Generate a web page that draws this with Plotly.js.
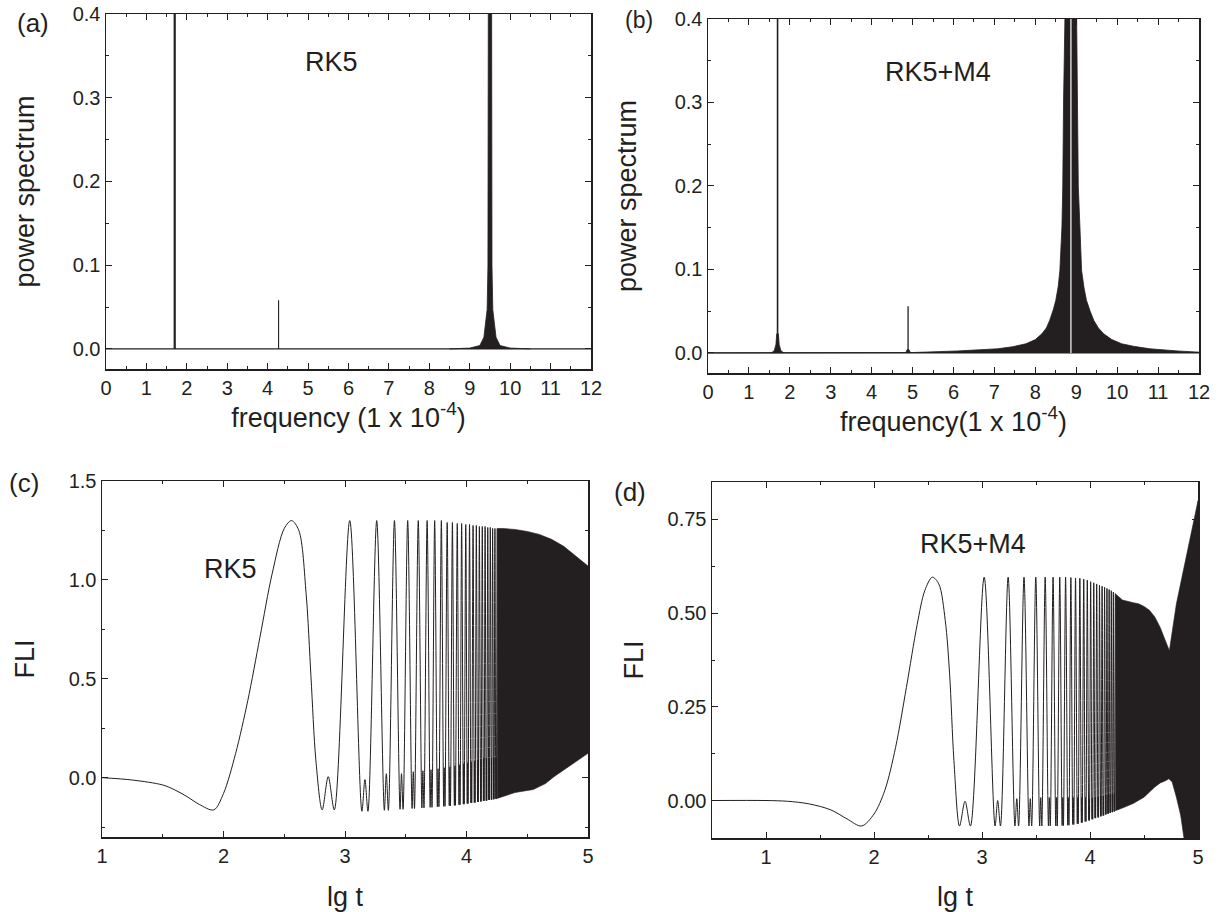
<!DOCTYPE html>
<html><head><meta charset="utf-8">
<script src="https://cdn.plot.ly/plotly-3.0.1.min.js"></script>
<style>html,body{margin:0;padding:0;background:#fff}.layer{position:absolute;left:0;top:0;width:1219px;height:912px}</style>
</head><body><div id="chart" class="layer"></div><div id="frames" class="layer"></div>
<script>
// ---------- (a) power spectrum, RK5 ----------
const aSpikeFreq = [1.70, 4.27];
const aSpikePow  = [0.45, 0.058];
const aPeakFreq = [8.5, 9.0, 9.25, 9.35, 9.43, 9.45, 9.46, 9.54, 9.55, 9.57, 9.65, 9.75, 10.0, 10.5];
const aPeakPow  = [0, 0.001, 0.004, 0.014, 0.047, 0.1, 0.45, 0.45, 0.1, 0.047, 0.014, 0.004, 0.001, 0];
const aBaseFreq = [0, 12];
const aBasePow  = [0, 0];

// ---------- (b) power spectrum, RK5+M4 ----------
const bSpikeFreq = [1.70, 4.89];
const bSpikePow  = [0.45, 0.056];
const bHump1Freq = [1.55, 1.62, 1.66, 1.68, 1.72, 1.74, 1.78, 1.85];
const bHump1Pow  = [0, 0.003, 0.01, 0.023, 0.023, 0.01, 0.003, 0];
const bHump2Freq = [4.83, 4.87, 4.91, 4.95];
const bHump2Pow  = [0, 0.004, 0.004, 0];
const bPeakFreq = [0, 5.0, 6.10, 6.6, 7.08, 7.45, 7.77, 8.0, 8.16, 8.27, 8.35, 8.44, 8.50, 8.56, 8.60, 8.65, 8.67, 8.69, 8.72, 8.74,
                   9.00, 9.01, 9.02, 9.05, 9.09, 9.13, 9.19, 9.25, 9.34, 9.43, 9.54, 9.67, 9.87, 10.11, 10.4, 10.8, 11.48, 12];
const bPeakPow  = [0, 0.0005, 0.0024, 0.0035, 0.005, 0.0075, 0.011, 0.016, 0.023, 0.03, 0.039, 0.052, 0.063, 0.08, 0.099, 0.151, 0.199, 0.303, 0.40, 0.45,
                   0.45, 0.40, 0.303, 0.199, 0.151, 0.099, 0.078, 0.063, 0.05, 0.039, 0.03, 0.023, 0.016, 0.011, 0.008, 0.005, 0.0024, 0.001];
const bGapFreq = [8.87];
const bGapPow  = [0.45];

// ---------- (c) FLI, RK5 ----------
const cLgt = [1.0, 1.25, 1.5, 1.6, 1.7, 1.8, 1.92, 2.0, 2.1, 2.2, 2.3, 2.4, 2.5, 2.56, 2.62, 2.68, 2.72, 2.76,
  2.812, 2.862, 2.912,
  3.039, 3.139, 3.164, 3.189,
  3.261, 3.324, 3.340, 3.357,
  3.407, 3.453, 3.465, 3.478,
  3.516, 3.552, 3.562, 3.572,
  3.603, 3.633, 3.641, 3.650,
  3.676, 3.701, 3.708, 3.716,
  3.738, 3.760, 3.766, 3.773,
  3.793, 3.812, 3.817, 3.823,
  3.841, 3.858, 3.863, 3.868,
  3.884, 3.900, 3.905, 3.909,
  3.924, 3.938, 3.942, 3.947,
  3.960, 3.974, 3.977, 3.981,
  3.994, 4.006, 4.009, 4.013,
  4.025, 4.036, 4.039, 4.043,
  4.054, 4.064, 4.067, 4.071,
  4.081, 4.091, 4.094, 4.097,
  4.106, 4.116, 4.119, 4.121,
  4.130, 4.139, 4.142, 4.145,
  4.153, 4.162, 4.164, 4.167,
  4.175, 4.183, 4.185, 4.188,
  4.196, 4.204, 4.206, 4.208,
  4.215, 4.223, 4.225, 4.227,
  4.234, 4.241, 4.244, 4.246,
  4.252];
const cFli = [0.0, -0.012, -0.037, -0.062, -0.096, -0.135, -0.163, -0.08, 0.123, 0.39, 0.71, 1.03, 1.26, 1.30, 1.25, 0.93, 0.51, 0.09,
  -0.163, 0.005, -0.163,
  1.30, -0.17, -0.01, -0.17,
  1.30, -0.165, 0.02, -0.165,
  1.30, -0.16, 0.02, -0.16,
  1.30, -0.156, 0.03, -0.156,
  1.30, -0.153, 0.035, -0.153,
  1.30, -0.15, 0.04, -0.15,
  1.30, -0.147, 0.045, -0.147,
  1.30, -0.145, 0.05, -0.145,
  1.29, -0.142, 0.055, -0.142,
  1.29, -0.14, 0.06, -0.14,
  1.285, -0.137, 0.065, -0.137,
  1.285, -0.134, 0.07, -0.134,
  1.28, -0.131, 0.075, -0.131,
  1.28, -0.128, 0.08, -0.128,
  1.275, -0.126, 0.085, -0.126,
  1.275, -0.123, 0.09, -0.123,
  1.27, -0.12, 0.095, -0.12,
  1.27, -0.118, 0.1, -0.118,
  1.27, -0.116, 0.1, -0.116,
  1.265, -0.113, 0.1, -0.113,
  1.265, -0.111, 0.1, -0.111,
  1.26, -0.109, 0.1, -0.109,
  1.26, -0.107, 0.1, -0.107,
  1.26];
const cUpperLgt = [4.252, 4.3, 4.4, 4.5, 4.6, 4.7, 4.8, 4.9, 5.0];
const cUpperFli = [1.26, 1.26, 1.255, 1.245, 1.23, 1.205, 1.17, 1.12, 1.07];
const cLowerLgt = [4.252, 4.4, 4.55, 4.65, 4.72, 4.8, 4.9, 5.0];
const cLowerFli = [-0.105, -0.075, -0.06, -0.03, 0.005, 0.04, 0.08, 0.123];

// ---------- (d) FLI, RK5+M4 ----------
const dLgt = [0.5, 1.0, 1.2, 1.4, 1.6, 1.75, 1.885, 2.0, 2.1, 2.2, 2.3, 2.4, 2.47, 2.54, 2.6, 2.66, 2.7, 2.74,
  2.792, 2.843, 2.893,
  3.020, 3.121, 3.145, 3.171,
  3.242, 3.305, 3.322, 3.339,
  3.389, 3.435, 3.447, 3.460,
  3.498, 3.534, 3.544, 3.554,
  3.585, 3.615, 3.623, 3.632,
  3.658, 3.683, 3.690, 3.697,
  3.720, 3.742, 3.748, 3.754,
  3.774, 3.794, 3.799, 3.805,
  3.823, 3.840, 3.845, 3.850,
  3.866, 3.882, 3.886, 3.891,
  3.906, 3.920, 3.924, 3.928,
  3.942, 3.955, 3.959, 3.963,
  3.975, 3.988, 3.991, 3.995,
  4.006, 4.018, 4.021, 4.025,
  4.035, 4.046, 4.049, 4.052,
  4.062, 4.073, 4.075, 4.079,
  4.088, 4.098, 4.100, 4.103,
  4.112, 4.121, 4.124, 4.127,
  4.135, 4.144, 4.146, 4.149,
  4.157, 4.165, 4.167, 4.170,
  4.177, 4.185, 4.187, 4.190,
  4.197, 4.205, 4.207, 4.209,
  4.216, 4.223, 4.225, 4.227,
  4.234];
const dFli = [0, 0, -0.002, -0.009, -0.025, -0.049, -0.068, -0.036, 0.027, 0.142, 0.302, 0.47, 0.56, 0.596, 0.578, 0.48, 0.338, 0.107,
  -0.068, -0.002, -0.068,
  0.596, -0.068, 0.0, -0.068,
  0.596, -0.068, 0.005, -0.068,
  0.596, -0.068, 0.005, -0.068,
  0.596, -0.068, 0.008, -0.068,
  0.596, -0.068, 0.008, -0.068,
  0.596, -0.068, 0.008, -0.068,
  0.596, -0.067, 0.008, -0.067,
  0.596, -0.066, 0.008, -0.066,
  0.595, -0.064, 0.008, -0.064,
  0.594, -0.062, 0.008, -0.062,
  0.593, -0.059, 0.008, -0.059,
  0.591, -0.056, 0.008, -0.056,
  0.588, -0.053, 0.008, -0.053,
  0.584, -0.05, 0.008, -0.05,
  0.581, -0.047, 0.01, -0.047,
  0.578, -0.045, 0.01, -0.045,
  0.575, -0.042, 0.012, -0.042,
  0.572, -0.04, 0.012, -0.04,
  0.569, -0.037, 0.014, -0.037,
  0.566, -0.035, 0.014, -0.035,
  0.563, -0.033, 0.016, -0.033,
  0.56, -0.031, 0.016, -0.031,
  0.556, -0.029, 0.018, -0.029,
  0.552];
const dUpperLgt = [4.234, 4.3, 4.4, 4.45, 4.5, 4.55, 4.6, 4.65, 4.7, 4.735, 4.8, 4.9, 5.0];
const dUpperFli = [0.552, 0.535, 0.528, 0.525, 0.518, 0.508, 0.49, 0.462, 0.425, 0.40, 0.525, 0.667, 0.80];
const dLowerLgt = [4.234, 4.3, 4.4, 4.5, 4.6, 4.65, 4.7, 4.73, 4.76, 4.8, 4.84, 4.87, 4.9, 4.98, 5.0];
const dLowerFli = [-0.027, -0.02, -0.008, 0.009, 0.036, 0.047, 0.053, 0.058, 0.05, 0.009, -0.04, -0.1, -0.12, -0.12, -0.12];

// ---------- axis ranges and tick labels ----------
const freqRange = [0, 12];
const powRange  = [-0.024, 0.4];
const freqTicks = [0, 1, 2, 3, 4, 5, 6, 7, 8, 9, 10, 11, 12];
const powTicks  = [0, 0.1, 0.2, 0.3, 0.4];
const cXRange = [1, 5];
const cYRange = [-0.3, 1.5];
const cXTicks = [1, 2, 3, 4, 5];
const cYTicks = [0, 0.5, 1.0, 1.5];
const dXRange = [0.5, 5];
const dYRange = [-0.1, 0.85];
const dXTicks = [1, 2, 3, 4, 5];
const dYTicks = [0, 0.25, 0.5, 0.75];

// ---------- helpers ----------
const INK = '#231f20';
const FONT = 'Liberation Sans, Arial, Helvetica, sans-serif';
const W = 1219, H = 912;
function spike(x, h, xa, ya, w, color) {
  return {x: [x, x], y: [0, h], xaxis: xa, yaxis: ya, mode: 'lines', line: {color: color || INK, width: w}, hoverinfo: 'skip', showlegend: false};
}
function band(ux, uy, lx, ly, xa, ya) {
  return {x: ux.concat(lx.slice().reverse()), y: uy.concat(ly.slice().reverse()), xaxis: xa, yaxis: ya, mode: 'lines',
          fill: 'toself', fillcolor: INK, line: {color: INK, width: 0.6}, hoverinfo: 'skip', showlegend: false};
}
function lineTrace(x, y, xa, ya, extra) {
  return Object.assign({x: x, y: y, xaxis: xa, yaxis: ya, mode: 'lines', line: {color: INK, width: 1}, hoverinfo: 'skip', showlegend: false}, extra || {});
}
const domA = {l: 106, r: 591, t: 14, b: 369};
const domB = {l: 708, r: 1199, t: 19, b: 373};
const domC = {l: 102, r: 588, t: 481, b: 837};
const domD = {l: 712, r: 1198, t: 482, b: 838};
function px(d) { return [d.l / W, d.r / W]; }
function py(d) { return [1 - d.b / H, 1 - d.t / H]; }

const traces = [
  // (a)
  lineTrace(aBaseFreq, aBasePow, 'x', 'y', {line: {color: INK, width: 1.2}}),
  spike(aSpikeFreq[0], aSpikePow[0], 'x', 'y', 2.2),
  spike(aSpikeFreq[1], aSpikePow[1], 'x', 'y', 1.1),
  lineTrace(aPeakFreq, aPeakPow, 'x', 'y', {fill: 'tozeroy', fillcolor: INK, line: {color: INK, width: 0.8}}),
  // (b)
  lineTrace(aBaseFreq, aBasePow, 'x2', 'y2', {line: {color: INK, width: 1.2}}),
  lineTrace(bPeakFreq, bPeakPow, 'x2', 'y2', {fill: 'tozeroy', fillcolor: INK, line: {color: INK, width: 0.8}}),
  spike(bGapFreq[0], bGapPow[0], 'x2', 'y2', 1.2, '#ffffff'),
  lineTrace(bHump1Freq, bHump1Pow, 'x2', 'y2', {fill: 'tozeroy', fillcolor: INK, line: {color: INK, width: 0.8}}),
  lineTrace(bHump2Freq, bHump2Pow, 'x2', 'y2', {fill: 'tozeroy', fillcolor: INK, line: {color: INK, width: 0.8}}),
  spike(bSpikeFreq[0], bSpikePow[0], 'x2', 'y2', 1.6),
  spike(bSpikeFreq[1], bSpikePow[1], 'x2', 'y2', 1.3),
  // (c)
  lineTrace(cLgt, cFli, 'x3', 'y3', {line: {color: INK, width: 1, shape: 'spline', smoothing: 0.9}}),
  band(cUpperLgt, cUpperFli, cLowerLgt, cLowerFli, 'x3', 'y3'),
  // (d)
  lineTrace(dLgt, dFli, 'x4', 'y4', {line: {color: INK, width: 1, shape: 'spline', smoothing: 0.9}}),
  band(dUpperLgt, dUpperFli, dLowerLgt, dLowerFli, 'x4', 'y4')
];

const tickFont = {family: FONT, size: 20, color: INK};
const titleFont = {family: FONT, size: 27, color: INK};
function axis(extra) {
  return Object.assign({showline: true, linecolor: INK, linewidth: 1.5, mirror: 'ticks', ticks: 'inside', ticklen: 6, tickcolor: INK,
    showgrid: false, zeroline: false, tickfont: tickFont}, extra);
}
function note(text, x, y, xa, ya) { return {text: text, x: x, y: y, xref: xa, yref: ya, showarrow: false, font: {family: FONT, size: 27, color: INK}}; }
function label(text, cx, cy, size) {
  return {text: text, x: cx / W, y: 1 - cy / H, xref: 'paper', yref: 'paper', xanchor: 'center', yanchor: 'middle', showarrow: false,
          font: {family: FONT, size: size, color: INK}};
}

const layout = {
  width: W, height: H, margin: {l: 0, r: 0, t: 0, b: 0}, showlegend: false,
  font: {family: FONT, color: INK},
  xaxis: axis({domain: px(domA), range: freqRange, tickvals: freqTicks, anchor: 'y',
    title: {text: 'frequency (1 x 10<sup>-4</sup>)', font: titleFont, standoff: 6}}),
  yaxis: axis({domain: py(domA), range: powRange, tickvals: powTicks, tickformat: '.1f', anchor: 'x',
    title: {text: 'power spectrum', font: titleFont, standoff: 30}}),
  xaxis2: axis({domain: px(domB), range: freqRange, tickvals: freqTicks, anchor: 'y2',
    title: {text: 'frequency(1 x 10<sup>-4</sup>)', font: titleFont, standoff: 6}}),
  yaxis2: axis({domain: py(domB), range: powRange, tickvals: powTicks, tickformat: '.1f', anchor: 'x2',
    title: {text: 'power spectrum', font: titleFont, standoff: 30}}),
  xaxis3: axis({domain: px(domC), range: cXRange, tickvals: cXTicks, anchor: 'y3',
    title: {text: 'lg t', font: titleFont, standoff: 36}}),
  yaxis3: axis({domain: py(domC), range: cYRange, tickvals: cYTicks, tickformat: '.1f', anchor: 'x3',
    title: {text: 'FLI', font: titleFont, standoff: 26}}),
  xaxis4: axis({domain: px(domD), range: dXRange, tickvals: dXTicks, anchor: 'y4',
    title: {text: 'lg t', font: titleFont, standoff: 36}}),
  yaxis4: axis({domain: py(domD), range: dYRange, tickvals: dYTicks, tickformat: '.2f', anchor: 'x4',
    title: {text: 'FLI', font: titleFont, standoff: 16}}),
  annotations: [
    note('RK5', 5.59, 0.343, 'x', 'y'),
    note('RK5+M4', 5.61, 0.337, 'x2', 'y2'),
    note('RK5', 2.055, 1.057, 'x3', 'y3'),
    note('RK5+M4', 2.917, 0.685, 'x4', 'y4'),
    label('(a)', 33, 23, 26),
    label('(b)', 639, 20, 23),
    label('(c)', 24, 483, 26),
    label('(d)', 630, 492, 26)
  ]
};

Plotly.newPlot('chart', traces, layout, {staticPlot: true, displayModeBar: false});

// ---------- transparent overlay: frame boxes with inside major/minor ticks ----------
function frameAxis(extra, minorStep) {
  return Object.assign({showline: true, linecolor: INK, linewidth: 1.5, mirror: 'ticks', ticks: 'inside', ticklen: 6, tickwidth: 1, tickcolor: INK,
    showgrid: false, zeroline: false, showticklabels: false,
    minor: {dtick: minorStep, tick0: 0, ticks: 'inside', ticklen: 3, tickwidth: 1, tickcolor: INK, showgrid: false}}, extra);
}
function ghost(xr, yr, xa, ya) {
  return {x: xr, y: yr, xaxis: xa, yaxis: ya, mode: 'markers', marker: {opacity: 0, size: 1}, hoverinfo: 'skip', showlegend: false};
}
const frameLayout = {
  width: W, height: H, margin: {l: 0, r: 0, t: 0, b: 0}, showlegend: false,
  paper_bgcolor: 'rgba(0,0,0,0)', plot_bgcolor: 'rgba(0,0,0,0)',
  xaxis:  frameAxis({domain: px(domA), range: freqRange, tick0: 0, dtick: 1, anchor: 'y'}, 0.5),
  yaxis:  frameAxis({domain: py(domA), range: powRange, tick0: 0, dtick: 0.1, anchor: 'x'}, 0.05),
  xaxis2: frameAxis({domain: px(domB), range: freqRange, tick0: 0, dtick: 1, anchor: 'y2'}, 0.5),
  yaxis2: frameAxis({domain: py(domB), range: powRange, tick0: 0, dtick: 0.1, anchor: 'x2'}, 0.05),
  xaxis3: frameAxis({domain: px(domC), range: cXRange, tick0: 0, dtick: 1, anchor: 'y3'}, 0.5),
  yaxis3: frameAxis({domain: py(domC), range: cYRange, tick0: 0, dtick: 0.5, anchor: 'x3'}, 0.25),
  xaxis4: frameAxis({domain: px(domD), range: dXRange, tick0: 0, dtick: 1, anchor: 'y4'}, 0.5),
  yaxis4: frameAxis({domain: py(domD), range: dYRange, tick0: 0, dtick: 0.25, anchor: 'x4'}, 0.125)
};
Plotly.newPlot('frames', [
  ghost(freqRange, powRange, 'x', 'y'),
  ghost(freqRange, powRange, 'x2', 'y2'),
  ghost(cXRange, cYRange, 'x3', 'y3'),
  ghost(dXRange, dYRange, 'x4', 'y4')
], frameLayout, {staticPlot: true, displayModeBar: false});
</script></body></html>
